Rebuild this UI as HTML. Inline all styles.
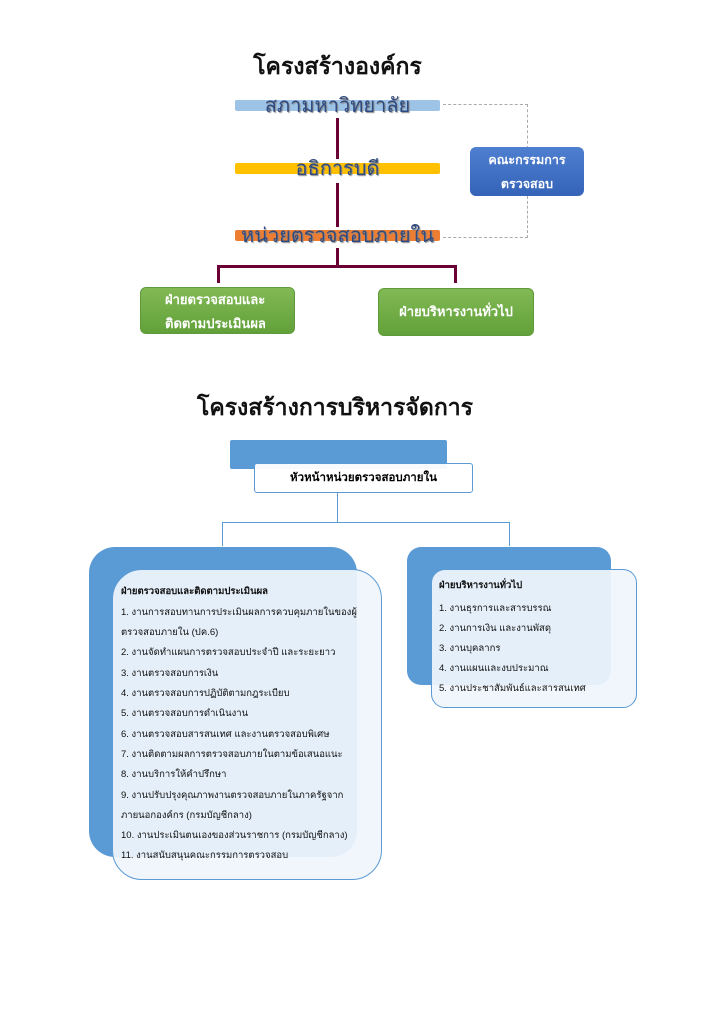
<!DOCTYPE html>
<html><head><meta charset="utf-8"><style>
body{margin:0;width:724px;height:1024px;background:#fff;position:relative;overflow:hidden;font-family:"Liberation Sans","Noto Sans CJK SC","WenQuanYi Zen Hei",sans-serif}
.a{position:absolute}
.t{font-weight:bold;color:#111;font-size:23px;text-align:center}
.bar{position:absolute;left:235px;width:205px;height:11px;border-radius:2px}
.bt{position:absolute;left:200px;width:275px;text-align:center;font-size:20px;color:#2f4a80;text-shadow:1px 1px 1px #888;line-height:22px}
.v{position:absolute;background:#6b0035}
.g{position:absolute;border-radius:6px;background:linear-gradient(#82b955,#62a13a);border:1px solid #5e9a3b;color:#fff;font-weight:bold;font-size:13px;text-align:center}
.ln{position:absolute;font-size:9.5px;color:#111;white-space:nowrap;line-height:14px}
</style></head><body>
<div class="a t" style="left:200px;top:49px;width:275px">โครงสร้างองค์กร</div>
<div class="bar" style="top:100px;background:#9dc3e6"></div>
<div class="bar" style="top:163px;background:#ffc000"></div>
<div class="bar" style="top:230px;background:#ed7d31"></div>
<div class="v" style="left:336px;top:118px;width:3px;height:41px"></div>
<div class="v" style="left:336px;top:183px;width:3px;height:44px"></div>
<div class="v" style="left:336px;top:248px;width:3px;height:20px"></div>
<div class="v" style="left:217px;top:265px;width:240px;height:3px"></div>
<div class="v" style="left:217px;top:265px;width:3px;height:18px"></div>
<div class="v" style="left:454px;top:265px;width:3px;height:18px"></div>
<div class="bt" style="top:95px">สภามหาวิทยาลัย</div>
<div class="bt" style="top:158px">อธิการบดี</div>
<div class="bt" style="top:225px">หน่วยตรวจสอบภายใน</div>
<div class="a" style="left:443px;top:104px;width:84px;height:44px;border-top:1px dashed #aaa;border-right:1px dashed #aaa"></div>
<div class="a" style="left:443px;top:196px;width:84px;height:41px;border-bottom:1px dashed #aaa;border-right:1px dashed #aaa"></div>
<div class="a" style="left:470px;top:147px;width:114px;height:49px;border-radius:6px;background:linear-gradient(#4f7fd0,#3463b8);color:#fff;font-weight:bold;font-size:12.5px;text-align:center;line-height:24px;padding-top:1px;box-sizing:border-box">คณะกรรมการ<br>ตรวจสอบ</div>
<div class="g" style="left:140px;top:287px;width:155px;height:47px;line-height:24px;text-align:left;padding-left:24px;box-sizing:border-box">ฝ่ายตรวจสอบและ<br>ติดตามประเมินผล</div>
<div class="g" style="left:378px;top:288px;width:154px;height:46px;line-height:46px">ฝ่ายบริหารงานทั่วไป</div>

<div class="a t" style="left:170px;top:390px;width:330px">โครงสร้างการบริหารจัดการ</div>
<div class="a" style="left:230px;top:440px;width:217px;height:29px;background:#5b9bd5;border-radius:2px"></div>
<div class="a" style="left:254px;top:463px;width:219px;height:30px;background:rgba(255,255,255,.95);border:1px solid #5b9bd5;border-radius:3px;box-sizing:border-box;text-align:center;font-weight:bold;font-size:11.5px;line-height:28px">หัวหน้าหน่วยตรวจสอบภายใน</div>
<div class="a" style="left:337px;top:493px;width:1px;height:30px;background:#5b9bd5"></div>
<div class="a" style="left:222px;top:522px;width:288px;height:24px;border:1px solid #5b9bd5;border-bottom:none;box-sizing:border-box"></div>

<div class="a" style="left:89px;top:547px;width:268px;height:310px;background:#5b9bd5;border-radius:26px"></div>
<div class="a" style="left:112px;top:569px;width:270px;height:311px;background:rgba(240,245,252,.93);border:1px solid #5b9bd5;border-radius:30px;box-sizing:border-box"></div>
<div class="a" style="left:407px;top:547px;width:204px;height:138px;background:#5b9bd5;border-radius:14px"></div>
<div class="a" style="left:431px;top:569px;width:206px;height:139px;background:rgba(240,245,252,.93);border:1px solid #5b9bd5;border-radius:14px;box-sizing:border-box"></div>

<div class="ln" style="left:121px;top:585px;font-weight:bold">ฝ่ายตรวจสอบและติดตามประเมินผล</div>
<div class="ln" style="left:121px;top:606px">1. งานการสอบทานการประเมินผลการควบคุมภายในของผู้</div>
<div class="ln" style="left:121px;top:626px">ตรวจสอบภายใน (ปค.6)</div>
<div class="ln" style="left:121px;top:646px">2. งานจัดทำแผนการตรวจสอบประจำปี และระยะยาว</div>
<div class="ln" style="left:121px;top:667px">3. งานตรวจสอบการเงิน</div>
<div class="ln" style="left:121px;top:687px">4. งานตรวจสอบการปฏิบัติตามกฎระเบียบ</div>
<div class="ln" style="left:121px;top:707px">5. งานตรวจสอบการดำเนินงาน</div>
<div class="ln" style="left:121px;top:728px">6. งานตรวจสอบสารสนเทศ และงานตรวจสอบพิเศษ</div>
<div class="ln" style="left:121px;top:748px">7. งานติดตามผลการตรวจสอบภายในตามข้อเสนอแนะ</div>
<div class="ln" style="left:121px;top:768px">8. งานบริการให้คำปรึกษา</div>
<div class="ln" style="left:121px;top:789px">9. งานปรับปรุงคุณภาพงานตรวจสอบภายในภาครัฐจาก</div>
<div class="ln" style="left:121px;top:809px">ภายนอกองค์กร (กรมบัญชีกลาง)</div>
<div class="ln" style="left:121px;top:829px">10. งานประเมินตนเองของส่วนราชการ (กรมบัญชีกลาง)</div>
<div class="ln" style="left:121px;top:849px">11. งานสนับสนุนคณะกรรมการตรวจสอบ</div>

<div class="ln" style="left:439px;top:579px;font-weight:bold">ฝ่ายบริหารงานทั่วไป</div>
<div class="ln" style="left:439px;top:602px">1. งานธุรการและสารบรรณ</div>
<div class="ln" style="left:439px;top:622px">2. งานการเงิน และงานพัสดุ</div>
<div class="ln" style="left:439px;top:642px">3. งานบุคลากร</div>
<div class="ln" style="left:439px;top:662px">4. งานแผนและงบประมาณ</div>
<div class="ln" style="left:439px;top:682px">5. งานประชาสัมพันธ์และสารสนเทศ</div>
</body></html>
